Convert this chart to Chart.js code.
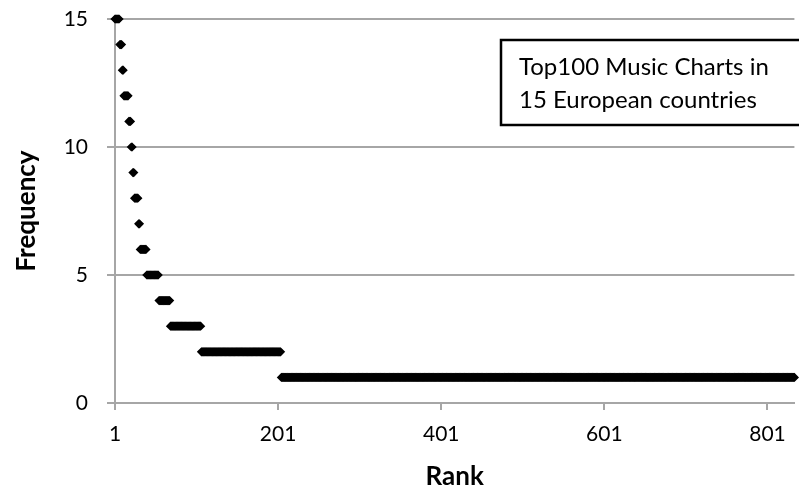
<!DOCTYPE html>
<html>
<head>
<meta charset="utf-8">
<script src="https://cdn.jsdelivr.net/npm/chart.js@4.4.1/dist/chart.umd.min.js"></script>
<style>
  html, body { margin: 0; padding: 0; background: #fff; }
  #wrap { position: relative; width: 799px; height: 494px; }
  canvas { display: block; }
</style>
</head>
<body>
<div id="wrap"><canvas id="c" width="799" height="494"></canvas></div>
<script>
// Frequency levels and the last rank that has each frequency
const freqLevels = [15, 14, 13, 12, 11, 10, 9, 8, 7, 6, 5, 4, 3, 2, 1];
const lastRank   = [6, 9, 11, 17, 20, 22, 24, 29, 31, 39, 54, 68, 106, 204, 850];
const xTickLabels = [1, 201, 401, 601, 801];
const yTickValues = [0, 5, 10, 15];
const boxLines = ['Top100 Music Charts in', '15 European countries'];
const xTitle = 'Rank';
const yTitle = 'Frequency';

const points = [];
let rank = 1;
freqLevels.forEach((f, i) => {
  for (; rank <= lastRank[i]; rank++) points.push({ x: rank, y: f });
});

const FONT = 'Lato, "Open Sans", sans-serif';
const AXIS = '#a6a6a6';

const boxPlugin = {
  id: 'textBox',
  afterDraw(chart) {
    const ctx = chart.ctx;
    ctx.save();
    ctx.strokeStyle = '#000';
    ctx.lineWidth = 2.5;
    ctx.strokeRect(501, 40, 310, 85);
    ctx.fillStyle = '#000';
    ctx.font = '24px ' + FONT;
    ctx.textBaseline = 'alphabetic';
    ctx.textAlign = 'left';
    ctx.fillText(boxLines[0], 519, 75);
    ctx.fillText(boxLines[1], 519, 108);
    ctx.restore();
  }
};

new Chart(document.getElementById('c'), {
  type: 'scatter',
  data: {
    datasets: [{
      data: points,
      pointStyle: 'rectRot',
      pointRadius: 4.6,
      pointHoverRadius: 4.6,
      backgroundColor: '#000',
      borderColor: '#000',
      borderWidth: 0,
      clip: false
    }]
  },
  options: {
    responsive: false,
    animation: false,
    devicePixelRatio: 1,
    layout: { padding: { top: 19, right: -2, left: 0, bottom: 0 } },
    plugins: { legend: { display: false }, tooltip: { enabled: false } },
    scales: {
      x: {
        type: 'linear',
        min: 1,
        max: 834,
        afterBuildTicks(scale) { scale.ticks = xTickLabels.map(v => ({ value: v })); },
        afterFit(scale) { scale.height = 91; scale.paddingLeft = 0; scale.paddingRight = 0; },
        grid: { drawOnChartArea: false, drawTicks: true, tickLength: 7, color: AXIS, lineWidth: 2 },
        border: { display: true, color: AXIS, width: 2 },
        ticks: { color: '#000', font: { family: FONT, size: 21 }, padding: 12, maxRotation: 0, autoSkip: false },
        title: { display: true, text: xTitle, color: '#000', font: { family: FONT, size: 26, weight: 'bold' }, padding: { top: 0, bottom: 2 } }
      },
      y: {
        type: 'linear',
        min: 0,
        max: 15,
        afterBuildTicks(scale) { scale.ticks = yTickValues.map(v => ({ value: v })); },
        afterFit(scale) { scale.width = 115; scale.paddingTop = 0; scale.paddingBottom = 0; },
        grid: { drawOnChartArea: true, drawTicks: true, tickLength: 8, color: AXIS, lineWidth: 2 },
        border: { display: true, color: AXIS, width: 2 },
        ticks: { color: '#000', font: { family: FONT, size: 21 }, padding: 19 },
        title: { display: true, text: yTitle, color: '#000', font: { family: FONT, size: 26, weight: 'bold' }, padding: { top: 11, bottom: 0 } }
      }
    }
  },
  plugins: [boxPlugin]
});
</script>
</body>
</html>
